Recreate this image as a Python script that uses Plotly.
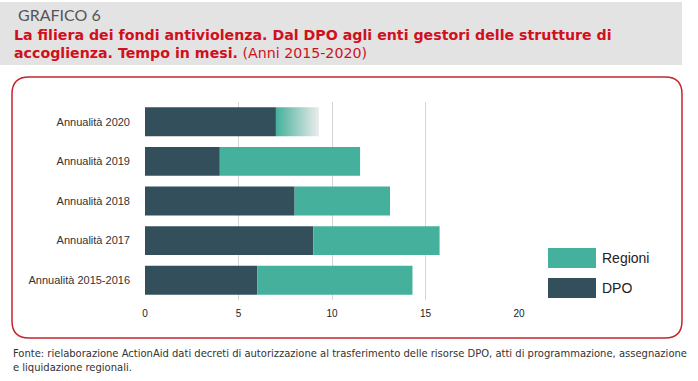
import plotly.graph_objects as go

# ---------------- data ----------------
categories = ["Annualità 2015-2016", "Annualità 2017", "Annualità 2018", "Annualità 2019", "Annualità 2020"]
dpo = [6.0, 9.0, 8.0, 4.0, 7.0]
regioni = [8.3, 6.75, 5.1, 7.5, 2.3]
x_ticks = [0, 5, 10, 15, 20]
series_names = ["Regioni", "DPO"]

# ---------------- style / layout ----------------
W, H = 698, 381
ML, MR, MT, MB = 145, 178, 102, 81
PW, PH = W - ML - MR, H - MT - MB
C_DPO = "#344f5c"
C_REG = "#45b09b"
RED = "#d0101d"
BAR_W = 0.73


def px(x):
    return (x - ML) / PW


def py(y):
    return (H - MB - y) / PH


ypos = list(range(len(categories)))

fig = go.Figure()
fig.add_trace(go.Bar(
    y=ypos, x=dpo, orientation="h", name=series_names[1],
    marker=dict(color=C_DPO, line=dict(width=0)), width=BAR_W, showlegend=False))

# last category (2020) is drawn with a fading gradient instead of a solid bar
reg_colors = [C_REG] * (len(categories) - 1) + ["rgba(0,0,0,0)"]
fig.add_trace(go.Bar(
    y=ypos, x=regioni, base=dpo, orientation="h", name=series_names[0],
    marker=dict(color=reg_colors, line=dict(width=0)), width=BAR_W, showlegend=False))

i = len(categories) - 1
x0, x1 = dpo[i], dpo[i] + regioni[i]
y0, y1 = ypos[i] - BAR_W / 2, ypos[i] + BAR_W / 2
fig.add_trace(go.Scatter(
    x=[x0, x1, x1, x0, x0], y=[y0, y0, y1, y1, y0], mode="lines",
    line=dict(width=0), fill="toself",
    fillgradient=dict(type="horizontal", colorscale=[[0, C_REG], [1, "#ececec"]]),
    showlegend=False, hoverinfo="skip"))

shapes = []
# header grey box
shapes.append(dict(type="rect", xref="paper", yref="paper",
                   x0=px(0), x1=px(682), y0=py(65), y1=py(2),
                   fillcolor="#e3e3e3", line=dict(width=0), layer="below"))

# rounded red frame
fl, fr, ft, fb, r = 12, 682, 77, 338, 17


def P(x, y):
    return f"{px(x):.5f},{py(y):.5f}"


path = (f"M {P(fl + r, ft)} L {P(fr - r, ft)} Q {P(fr, ft)} {P(fr, ft + r)} "
        f"L {P(fr, fb - r)} Q {P(fr, fb)} {P(fr - r, fb)} "
        f"L {P(fl + r, fb)} Q {P(fl, fb)} {P(fl, fb - r)} "
        f"L {P(fl, ft + r)} Q {P(fl, ft)} {P(fl + r, ft)} Z")
shapes.append(dict(type="path", xref="paper", yref="paper", path=path,
                   line=dict(color="#c4262e", width=1.5), layer="below"))

# custom legend swatches
leg_colors = [C_REG, C_DPO]
leg_y = [248, 278]
for c, yy in zip(leg_colors, leg_y):
    shapes.append(dict(type="rect", xref="paper", yref="paper",
                       x0=px(548), x1=px(596), y0=py(yy + 20), y1=py(yy),
                       fillcolor=c, line=dict(width=0)))

annotations = []
for name, yy in zip(series_names, leg_y):
    annotations.append(dict(text=name, xref="paper", yref="paper", x=px(600), y=py(yy + 10),
                            xanchor="left", yanchor="middle", showarrow=False,
                            font=dict(family="Liberation Sans, Arial, sans-serif", size=14, color="#222")))

annotations.append(dict(text="GRAFICO 6", xref="paper", yref="paper", x=px(16), y=py(15),
                        xanchor="left", yanchor="middle", showarrow=False,
                        font=dict(family="Lato, sans-serif", size=16, color="#555")))
annotations.append(dict(
    text="<b>La filiera dei fondi antiviolenza. Dal DPO agli enti gestori delle strutture di</b>",
    xref="paper", yref="paper", x=px(12), y=py(35), xanchor="left", yanchor="middle",
    showarrow=False, font=dict(family="DejaVu Sans, sans-serif", size=14.2, color=RED)))
annotations.append(dict(
    text="<b>accoglienza. Tempo in mesi.</b> (Anni 2015-2020)",
    xref="paper", yref="paper", x=px(12), y=py(53), xanchor="left", yanchor="middle",
    showarrow=False, font=dict(family="DejaVu Sans, sans-serif", size=14.2, color=RED)))
annotations.append(dict(
    text=("Fonte: rielaborazione ActionAid dati decreti di autorizzazione al trasferimento delle risorse DPO, "
          "atti di programmazione, assegnazione<br>e liquidazione regionali."),
    xref="paper", yref="paper", x=px(11), y=py(345), xanchor="left", yanchor="top", align="left",
    showarrow=False, font=dict(family="DejaVu Sans Condensed, sans-serif",
                               size=11.1, color="#333")))

fig.update_layout(
    width=W, height=H, margin=dict(l=ML, r=MR, t=MT, b=MB),
    paper_bgcolor="white", plot_bgcolor="white",
    barmode="overlay", showlegend=False,
    shapes=shapes, annotations=annotations,
    xaxis=dict(range=[0, 20.05], tickvals=x_ticks, ticktext=[str(v) for v in x_ticks],
               showgrid=True, gridcolor="#d6d6d6", gridwidth=1, zeroline=False,
               showline=False, ticks="", ticklabelstandoff=6,
               tickfont=dict(family="Liberation Sans, Arial, sans-serif", size=10, color="#222"),
               fixedrange=True),
    yaxis=dict(range=[-0.5, 4.5], tickvals=ypos, ticktext=categories,
               showgrid=False, zeroline=False, showline=False, ticks="",
               ticklabelstandoff=14,
               tickfont=dict(family="Liberation Sans, Arial, sans-serif", size=11, color="#333"),
               fixedrange=True),
)

fig.write_html("out.html", post_script="document.body.style.margin='0';",
               config={"displayModeBar": False})
